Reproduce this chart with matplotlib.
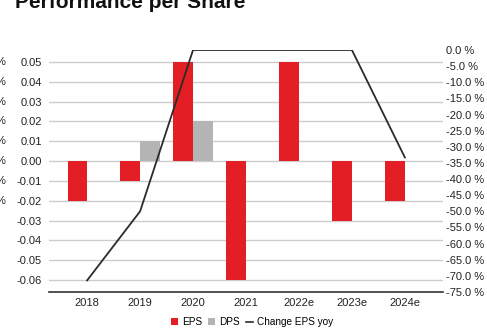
import numpy as np
import matplotlib
matplotlib.use("Agg")
import matplotlib.pyplot as plt

years = ['2018', '2019', '2020', '2021', '2022e', '2023e', '2024e']
eps = np.array([-0.02, -0.01, 0.05, -0.06, 0.05, -0.03, -0.02])
dps = np.array([0.0, 0.01, 0.02, 0.0, 0.0, 0.0, 0.0])
eps_yoy = np.array([-71.4, -50.0, 0.0, 0.0, 0.0, 0.0, -33.3])

plt.rcParams['font.family'] = ['Liberation Sans', 'DejaVu Sans']

fig = plt.figure(figsize=(4.87, 3.29), dpi=100)
ax = fig.add_axes([49/487, 1-292/329, (443-49)/487, (292-50)/329])
ax2 = ax.twinx()

x = np.arange(len(years))
w = 0.37
ax.set_axisbelow(True)
ax.bar(x - w/2, eps, w, color='#e31e24', zorder=2, label='EPS')
ax.bar(x + w/2, dps, w, color='#b4b4b4', zorder=2, label='DPS')
ax2.plot(x, eps_yoy, color='#2b2b2b', lw=1.3, label='Change EPS yoy')

ax.set_xlim(-0.72, 6.72)
ax.set_ylim(-0.06606, 0.05606)
ticks = np.arange(-0.06, 0.051, 0.01)
ax.set_yticks(ticks)
ax.set_yticklabels(['%.2f' % v if abs(v) > 1e-9 else '0.00' for v in ticks])
ax.yaxis.grid(True, color='#cccccc', lw=1)
ax.set_xticks(x)
ax.set_xticklabels(years)

ax2.set_ylim(-75, 0)
ax2.set_yticks(np.arange(-75, 1, 5))
ax2.set_yticklabels(['%.1f %%' % v for v in np.arange(-75, 1, 5)])

for a in (ax, ax2):
    for s in ['top', 'left', 'right', 'bottom']:
        a.spines[s].set_visible(False)
    a.tick_params(length=0, labelsize=8, colors='#222222')
ax.axhline(-0.06606, color='#333333', lw=1.2, zorder=3, clip_on=False)
ax.tick_params(axis='y', pad=5)
ax.tick_params(axis='x', pad=4)
ax2.tick_params(axis='y', pad=2)

h1, l1 = ax.get_legend_handles_labels()
h2, l2 = ax2.get_legend_handles_labels()
fig.legend(h1 + h2, l1 + l2, loc='center', bbox_to_anchor=(252/487, 1-322/329),
           ncol=3, frameon=False, fontsize=7.2, handlelength=0.7, handleheight=0.7,
           handletextpad=0.4, columnspacing=0.6)
leg = fig.legends[0]
leg.legend_handles[2].set_linewidth(1.2)

fig.text(15/487, 1-8/329, 'Performance per Share', fontsize=15, fontweight='bold',
         ha='left', va='baseline', color='#111111')

for v in np.arange(0.05, -0.021, -0.01):
    yy = ax.transData.transform((0, v))[1] / fig.dpi / 3.29
    fig.text(-0.008, yy, '%', fontsize=8, ha='left', va='center', color='#222222')

fig.savefig('out.png', dpi=100)
